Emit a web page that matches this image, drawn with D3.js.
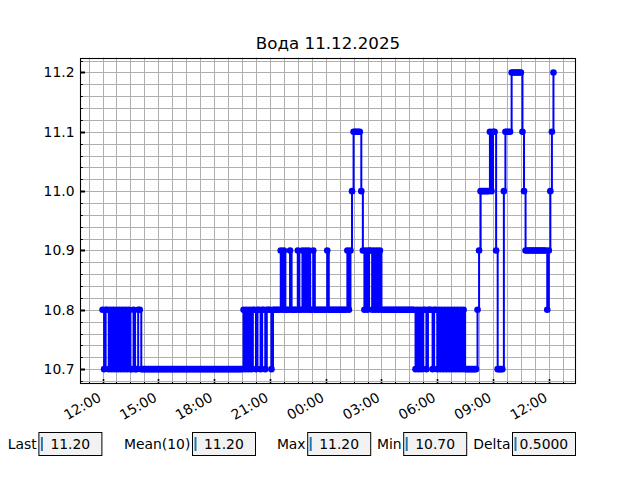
<!DOCTYPE html>
<html>
<head>
<meta charset="utf-8">
<script src="https://cdn.jsdelivr.net/npm/d3@7"></script>
<style>
  body { margin: 0; background: #fff; }
  svg { display: block; font-family: "DejaVu Sans", sans-serif; }
</style>
</head>
<body>
<svg id="chart" width="640" height="480"></svg>
<script>
// ---------------- DATA ----------------
const chartTitle = "Вода 11.12.2025";
const startTime = new Date(2025, 11, 10, 12, 0);   // first reading
const stepMinutes = 5;                              // one reading every 5 minutes

// readings, one row per hour (12 readings per hour)
const hourlyLevels = [
  [10.8,10.7,10.8,10.8,10.7,10.8,10.7,10.8,10.7,10.8,10.7,10.8], // 12:00
  [10.7,10.8,10.7,10.8,10.7,10.8,10.7,10.7,10.8,10.7,10.7,10.8], // 13:00
  [10.8,10.7,10.7,10.7,10.7,10.7,10.7,10.7,10.7,10.7,10.7,10.7], // 14:00
  [10.7,10.7,10.7,10.7,10.7,10.7,10.7,10.7,10.7,10.7,10.7,10.7], // 15:00
  [10.7,10.7,10.7,10.7,10.7,10.7,10.7,10.7,10.7,10.7,10.7,10.7], // 16:00
  [10.7,10.7,10.7,10.7,10.7,10.7,10.7,10.7,10.7,10.7,10.7,10.7], // 17:00
  [10.7,10.7,10.7,10.7,10.7,10.7,10.7,10.7,10.7,10.7,10.7,10.7], // 18:00
  [10.7,10.7,10.7,10.7,10.7,10.7,10.7,10.8,10.7,10.8,10.7,10.8], // 19:00
  [10.7,10.8,10.8,10.7,10.8,10.8,10.7,10.8,10.8,10.7,10.8,10.8], // 20:00
  [10.8,10.7,10.8,10.8,10.8,10.8,10.8,10.9,10.8,10.9,10.8,10.8], // 21:00
  [10.8,10.9,10.8,10.8,10.8,10.8,10.9,10.8,10.8,10.9,10.8,10.9], // 22:00
  [10.8,10.9,10.8,10.8,10.9,10.8,10.8,10.8,10.8,10.8,10.8,10.8], // 23:00
  [10.8,10.9,10.8,10.8,10.8,10.8,10.8,10.8,10.8,10.8,10.8,10.8], // 00:00
  [10.8,10.8,10.9,10.8,10.9,11.0,11.1,11.1,11.1,11.1,11.1,11.0], // 01:00
  [10.9,10.8,10.9,10.8,10.9,10.9,10.8,10.9,10.8,10.9,10.8,10.9], // 02:00
  [10.8,10.8,10.8,10.8,10.8,10.8,10.8,10.8,10.8,10.8,10.8,10.8], // 03:00
  [10.8,10.8,10.8,10.8,10.8,10.8,10.8,10.8,10.8,10.8,10.7,10.8], // 04:00
  [10.7,10.8,10.7,10.8,10.8,10.7,10.8,10.8,10.8,10.7,10.8,10.8], // 05:00
  [10.7,10.8,10.7,10.8,10.7,10.8,10.7,10.8,10.7,10.8,10.7,10.8], // 06:00
  [10.7,10.8,10.7,10.8,10.7,10.8,10.7,10.7,10.7,10.7,10.7,10.7], // 07:00
  [10.7,10.7,10.8,10.9,11.0,11.0,11.0,11.0,11.0,11.0,11.1,11.0], // 08:00
  [11.1,11.1,10.9,10.7,10.7,10.7,10.7,11.0,11.1,11.1,11.1,11.1], // 09:00
  [11.2,11.2,11.2,11.2,11.2,11.2,11.2,11.1,11.0,10.9,10.9,10.9], // 10:00
  [10.9,10.9,10.9,10.9,10.9,10.9,10.9,10.9,10.9,10.9,10.9,10.8], // 11:00
  [10.9,11.0,11.1,11.2]                                          // 12:00
];

const yTickValues = [10.7, 10.8, 10.9, 11.0, 11.1, 11.2];
const statLabels = ["Last", "Mean(10)", "Max", "Min", "Delta"];
const statTexts  = ["  11.20", "  11.20", "  11.20", "  10.70", " 0.5000"];

// ---------------- LAYOUT ----------------
const W = 640, H = 480;
const box = { left: 80, right: 576, top: 57.6, bottom: 384 };
const lineColor = "#0000ff";
const gridColor = "#b0b0b0";
const statBoxLeft = [0.06, 0.30, 0.48, 0.63, 0.80].map(f => f * W);

const svg = d3.select("#chart");

const data = hourlyLevels.flat().map((v, i) => ({
  t: new Date(+startTime + i * stepMinutes * 60000), v
}));

const tExt = d3.extent(data, d => d.t);
const tSpan = tExt[1] - tExt[0];
const x = d3.scaleTime()
  .domain([new Date(+tExt[0] - 0.05 * tSpan), new Date(+tExt[1] + 0.05 * tSpan)])
  .range([box.left, box.right]);

const vExt = d3.extent(data, d => d.v);
const vPad = 0.05 * (vExt[1] - vExt[0]);
const y = d3.scaleLinear()
  .domain([vExt[0] - vPad, vExt[1] + vPad])
  .range([box.bottom, box.top]);

const crisp = v => Math.round(v) + 0.5;

// x ticks: major every 3 h, minor every 45 min
const xMajor = x.ticks(d3.timeHour.every(3));
const [xd0, xd1] = x.domain();
const minorMs = 45 * 60000;
const ref = +xMajor[0];
const xMinor = d3.range(Math.ceil((xd0 - ref) / minorMs), Math.floor((xd1 - ref) / minorMs) + 1)
  .map(k => new Date(ref + k * minorMs));
const xMinorOnly = xMinor.filter(d => !xMajor.some(m => +m === +d));

// y ticks: major 0.1, minor 0.02
const [yd0, yd1] = y.domain();
const yMinor = d3.range(Math.ceil(yd0 / 0.02 - 1e-9), Math.floor(yd1 / 0.02 + 1e-9) + 1).map(k => k * 0.02);
const yMinorOnly = yMinor.filter(v => !yTickValues.some(m => Math.abs(m - v) < 1e-9));

const gX = svg.append("g");
gX.selectAll("line").data(xMinor).join("line")
  .attr("x1", d => crisp(x(d))).attr("x2", d => crisp(x(d)))
  .attr("y1", box.top).attr("y2", box.bottom)
  .attr("stroke", gridColor).attr("stroke-width", 1);
const gXt = svg.append("g");
gXt.selectAll("line").data(xMajor).join("line")
  .attr("x1", d => crisp(x(d))).attr("x2", d => crisp(x(d)))
  .attr("y1", box.bottom).attr("y2", box.bottom - 5)
  .attr("stroke", "#000").attr("stroke-width", 1.6);
const gXm = svg.append("g");
gXm.selectAll("line").data(xMinorOnly).join("line")
  .attr("x1", d => crisp(x(d))).attr("x2", d => crisp(x(d)))
  .attr("y1", box.bottom).attr("y2", box.bottom - 2.8)
  .attr("stroke", "#000").attr("stroke-width", 1);

const gY = svg.append("g");
gY.selectAll("line").data(yMinor).join("line")
  .attr("x1", box.left).attr("x2", box.right)
  .attr("y1", d => crisp(y(d))).attr("y2", d => crisp(y(d)))
  .attr("stroke", gridColor).attr("stroke-width", 1);
const gYt = svg.append("g");
gYt.selectAll("line").data(yTickValues).join("line")
  .attr("x1", box.left).attr("x2", box.left + 5)
  .attr("y1", d => crisp(y(d))).attr("y2", d => crisp(y(d)))
  .attr("stroke", "#000").attr("stroke-width", 2);
const gYm = svg.append("g");
gYm.selectAll("line").data(yMinorOnly).join("line")
  .attr("x1", box.left).attr("x2", box.left + 2.8)
  .attr("y1", d => crisp(y(d))).attr("y2", d => crisp(y(d)))
  .attr("stroke", "#000").attr("stroke-width", 1);

// data line + markers
const gData = svg.append("g");
gData.append("path")
  .datum(data)
  .attr("d", d3.line().curve(d3.curveStepAfter).x(d => x(d.t)).y(d => y(d.v)))
  .attr("fill", "none").attr("stroke", lineColor)
  .attr("stroke-width", 2).attr("stroke-linejoin", "round");
gData.selectAll("circle").data(data).join("circle")
  .attr("cx", d => x(d.t)).attr("cy", d => y(d.v)).attr("r", 3.3)
  .attr("fill", lineColor);

// spines
svg.append("rect")
  .attr("x", box.left + 0.5).attr("y", Math.round(box.top) + 0.5)
  .attr("width", box.right - box.left - 1).attr("height", box.bottom - Math.round(box.top) - 1)
  .attr("fill", "none").attr("stroke", "#000").attr("stroke-width", 1.1);

// tick labels
const fmtTime = d3.timeFormat("%H:%M");
svg.append("g").selectAll("text").data(xMajor).join("text")
  .attr("transform", d => `translate(${x(d) - 7},${box.bottom + 5}) rotate(-30)`)
  .attr("text-anchor", "end")
  .attr("dominant-baseline", "text-before-edge")
  .attr("font-size", 13.9).attr("fill", "#000")
  .text(d => fmtTime(d));

svg.append("g").selectAll("text").data(yTickValues).join("text")
  .attr("x", box.left - 5.5).attr("y", d => y(d))
  .attr("text-anchor", "end").attr("dominant-baseline", "central")
  .attr("font-size", 13.9).attr("fill", "#000")
  .text(d => d3.format(".1f")(d));

// title
svg.append("text")
  .attr("x", (box.left + box.right) / 2).attr("y", box.top - 8.3)
  .attr("text-anchor", "middle").attr("font-size", 16.7).attr("fill", "#000")
  .text(chartTitle);

// stat text boxes
const boxTop = 432, boxH = 24, boxW = 64;
const gS = svg.append("g");
statLabels.forEach((lab, i) => {
  const bx = statBoxLeft[i];
  gS.append("rect")
    .attr("x", bx + 0.5).attr("y", boxTop + 0.5)
    .attr("width", boxW - 1).attr("height", boxH - 1)
    .attr("fill", "#f2f2f2").attr("stroke", "#000").attr("stroke-width", 1);
  gS.append("text")
    .attr("x", bx - 1.6).attr("y", boxTop + boxH / 2)
    .attr("text-anchor", "end").attr("dominant-baseline", "central")
    .attr("font-size", 13.9).attr("fill", "#000").text(lab);
  gS.append("line")
    .attr("x1", bx + 3.5).attr("x2", bx + 3.5)
    .attr("y1", boxTop + 5).attr("y2", boxTop + 19)
    .attr("stroke", "#1f77b4").attr("stroke-width", 2);
  gS.append("text")
    .attr("x", bx + 3.2).attr("y", boxTop + boxH / 2)
    .attr("dominant-baseline", "central")
    .attr("font-size", 13.9).attr("fill", "#000")
    .text(statTexts[i].replace(/ /g, "\u00a0"));
});
</script>
</body>
</html>
